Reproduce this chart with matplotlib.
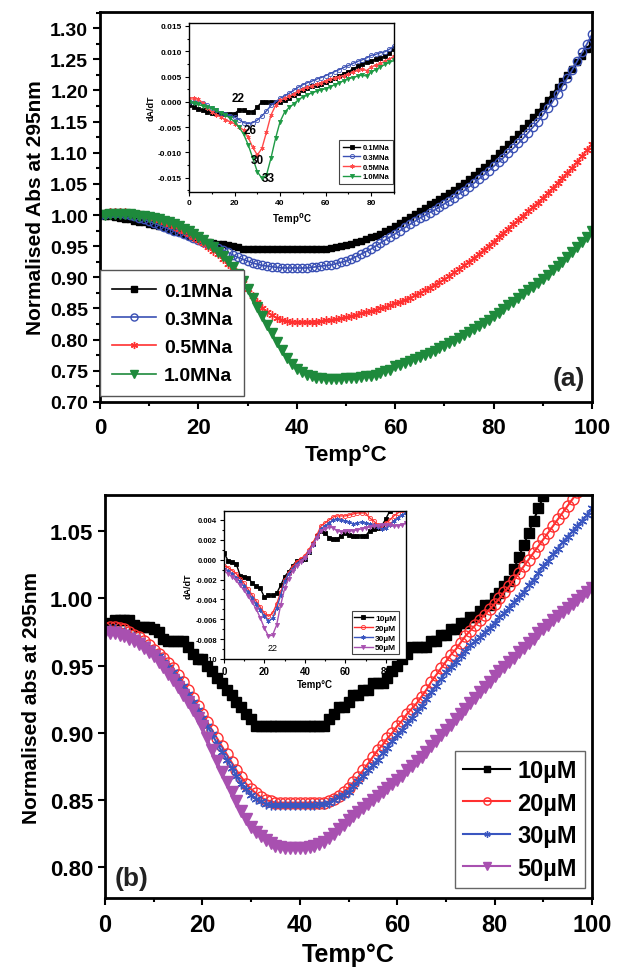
import numpy as np
import matplotlib.pyplot as plt
from matplotlib.ticker import MultipleLocator, FormatStrFormatter

plt.rcParams['font.family'] = ['Liberation Sans', 'DejaVu Sans']
plt.rcParams['font.weight'] = 'bold'
plt.rcParams['axes.labelweight'] = 'bold'

# ---------------- panel (a): normalised absorbance, NaCl series ----------------
temp_a = np.arange(0, 101)
na_labels = ['0.1MNa', '0.3MNa', '0.5MNa', '1.0MNa']
abs_01 = [1.000, 0.999, 0.998, 0.997, 0.996, 0.994, 0.993, 0.991, 0.989, 0.988, 0.986,
          0.984, 0.982, 0.980, 0.978, 0.975, 0.973, 0.970, 0.967, 0.964, 0.961,
          0.959, 0.957, 0.955, 0.954, 0.953, 0.952, 0.950, 0.948, 0.946, 0.945,
          0.945, 0.945, 0.945, 0.945, 0.945, 0.945, 0.945, 0.945, 0.945, 0.945,
          0.945, 0.945, 0.945, 0.945, 0.945, 0.946, 0.947, 0.948, 0.950, 0.952,
          0.954, 0.956, 0.958, 0.961, 0.964, 0.967, 0.970, 0.974, 0.978, 0.982,
          0.987, 0.992, 0.997, 1.002, 1.007, 1.012, 1.017, 1.021, 1.025, 1.030,
          1.035, 1.040, 1.046, 1.052, 1.058, 1.064, 1.070, 1.077, 1.084, 1.091,
          1.099, 1.106, 1.114, 1.122, 1.130, 1.139, 1.148, 1.157, 1.166, 1.175,
          1.185, 1.195, 1.205, 1.215, 1.225, 1.235, 1.245, 1.256, 1.267, 1.278]
abs_03 = [1.000, 1.002, 1.003, 1.003, 1.003, 1.002, 1.000, 0.998, 0.996, 0.993, 0.990,
          0.987, 0.984, 0.981, 0.978, 0.975, 0.972, 0.969, 0.966, 0.963, 0.960,
          0.957, 0.954, 0.950, 0.947, 0.944, 0.940, 0.936, 0.932, 0.929, 0.926,
          0.923, 0.921, 0.919, 0.918, 0.917, 0.916, 0.915, 0.915, 0.915, 0.915,
          0.915, 0.915, 0.916, 0.917, 0.918, 0.919, 0.920, 0.922, 0.924, 0.926,
          0.929, 0.933, 0.937, 0.941, 0.945, 0.950, 0.955, 0.960, 0.965, 0.970,
          0.975, 0.980, 0.985, 0.990, 0.995, 0.999, 1.004, 1.008, 1.013, 1.018,
          1.023, 1.028, 1.034, 1.039, 1.045, 1.051, 1.058, 1.064, 1.071, 1.078,
          1.085, 1.092, 1.100, 1.107, 1.115, 1.123, 1.132, 1.141, 1.150, 1.160,
          1.171, 1.182, 1.194, 1.207, 1.220, 1.233, 1.247, 1.261, 1.275, 1.290]
abs_05 = [1.002, 1.004, 1.005, 1.005, 1.005, 1.005, 1.004, 1.003, 1.002, 1.000, 0.998,
          0.995, 0.992, 0.989, 0.986, 0.982, 0.978, 0.974, 0.970, 0.965, 0.960,
          0.955, 0.949, 0.943, 0.937, 0.930, 0.921, 0.912, 0.902, 0.891, 0.881,
          0.870, 0.860, 0.851, 0.844, 0.839, 0.835, 0.832, 0.830, 0.829, 0.828,
          0.828, 0.828, 0.828, 0.829, 0.830, 0.831, 0.832, 0.833, 0.834, 0.836,
          0.838, 0.840, 0.842, 0.844, 0.846, 0.848, 0.850, 0.852, 0.855, 0.858,
          0.861, 0.864, 0.867, 0.871, 0.875, 0.879, 0.883, 0.888, 0.892, 0.897,
          0.902, 0.908, 0.913, 0.919, 0.925, 0.931, 0.937, 0.944, 0.950, 0.957,
          0.964, 0.971, 0.978, 0.985, 0.992, 0.999, 1.006, 1.013, 1.020, 1.027,
          1.035, 1.043, 1.051, 1.059, 1.067, 1.076, 1.085, 1.095, 1.104, 1.114]
abs_10 = [1.000, 1.000, 1.001, 1.001, 1.001, 1.001, 1.001, 1.000, 0.999, 0.998, 0.997,
          0.995, 0.993, 0.991, 0.988, 0.985, 0.982, 0.978, 0.974, 0.970, 0.965,
          0.960, 0.954, 0.948, 0.941, 0.934, 0.926, 0.917, 0.906, 0.894, 0.881,
          0.867, 0.853, 0.838, 0.824, 0.810, 0.796, 0.783, 0.771, 0.761, 0.753,
          0.748, 0.744, 0.741, 0.739, 0.738, 0.737, 0.737, 0.737, 0.737, 0.738,
          0.738, 0.739, 0.740, 0.741, 0.742, 0.744, 0.746, 0.749, 0.752, 0.757,
          0.760, 0.763, 0.766, 0.769, 0.772, 0.775, 0.779, 0.782, 0.786, 0.790,
          0.794, 0.798, 0.803, 0.807, 0.812, 0.817, 0.822, 0.827, 0.832, 0.838,
          0.843, 0.849, 0.855, 0.861, 0.867, 0.873, 0.879, 0.885, 0.891, 0.897,
          0.904, 0.911, 0.918, 0.925, 0.933, 0.940, 0.948, 0.956, 0.965, 0.974]

# inset (a): dA/dT
temp_da = np.arange(0, 91, 2)
da_01 = [-0.0007, -0.0010, -0.0014, -0.0017, -0.0020, -0.0021, -0.0022, -0.0023, -0.0023, -0.0023,
         -0.0023, -0.0016, -0.0017, -0.0019, -0.0020, -0.0010, 0.0000, 0.0000, 0.0000, 0.0000,
         0.0000, 0.0004, 0.0008, 0.0013, 0.0018, 0.0023, 0.0027, 0.0031, 0.0034, 0.0036,
         0.0039, 0.0043, 0.0047, 0.0051, 0.0056, 0.0060, 0.0065, 0.0070, 0.0074, 0.0078,
         0.0081, 0.0084, 0.0087, 0.0090, 0.0097, 0.0104]
da_03 = [0.0000, 0.0000, 0.0000, -0.0002, -0.0007, -0.0013, -0.0017, -0.0021, -0.0024, -0.0027,
         -0.0030, -0.0035, -0.0041, -0.0043, -0.0041, -0.0036, -0.0028, -0.0018, -0.0007, 0.0000,
         0.0007, 0.0012, 0.0017, 0.0023, 0.0029, 0.0034, 0.0038, 0.0041, 0.0045, 0.0048,
         0.0052, 0.0056, 0.0060, 0.0064, 0.0068, 0.0072, 0.0076, 0.0080, 0.0083, 0.0087,
         0.0092, 0.0094, 0.0097, 0.0099, 0.0104, 0.0110]
da_05 = [0.0007, 0.0008, 0.0006, -0.0002, -0.0012, -0.0020, -0.0025, -0.0030, -0.0035, -0.0039,
         -0.0043, -0.0049, -0.0056, -0.0070, -0.0090, -0.0105, -0.0092, -0.0060, -0.0026, -0.0007,
         0.0003, 0.0007, 0.0011, 0.0016, 0.0021, 0.0026, 0.0029, 0.0032, 0.0035, 0.0038,
         0.0042, 0.0045, 0.0048, 0.0050, 0.0052, 0.0055, 0.0059, 0.0063, 0.0065, 0.0062,
         0.0069, 0.0073, 0.0076, 0.0080, 0.0085, 0.0090]
da_10 = [0.0000, -0.0003, -0.0005, -0.0008, -0.0011, -0.0013, -0.0017, -0.0021, -0.0026, -0.0032,
         -0.0039, -0.0050, -0.0064, -0.0085, -0.0111, -0.0138, -0.0151, -0.0145, -0.0111, -0.0072,
         -0.0039, -0.0020, -0.0011, -0.0004, 0.0004, 0.0010, 0.0014, 0.0018, 0.0021, 0.0024,
         0.0026, 0.0030, 0.0034, 0.0038, 0.0042, 0.0046, 0.0048, 0.0051, 0.0053, 0.0051,
         0.0059, 0.0064, 0.0069, 0.0074, 0.0078, 0.0082]
peak_labels_a = ['22', '26', '30', '33']
peak_x_a = [21.5, 26.6, 30.0, 35.0]
peak_y_a = [0.0007, -0.0056, -0.0115, -0.0151]

# ---------------- panel (b): concentration series ----------------
temp_b = np.arange(0, 101)
conc_labels = ['10\u00b5M', '20\u00b5M', '30\u00b5M', '50\u00b5M']
abs_10um = [0.980, 0.982, 0.984, 0.984, 0.984, 0.984, 0.980, 0.979, 0.979, 0.979, 0.977,
            0.975, 0.970, 0.968, 0.968, 0.968, 0.968, 0.964, 0.959, 0.955, 0.955,
            0.950, 0.946, 0.941, 0.937, 0.932, 0.928, 0.923, 0.919, 0.914, 0.910,
            0.905, 0.905, 0.905, 0.905, 0.905, 0.905, 0.905, 0.905, 0.905, 0.905,
            0.905, 0.905, 0.905, 0.905, 0.905, 0.910, 0.914, 0.919, 0.919, 0.923,
            0.928, 0.928, 0.932, 0.932, 0.937, 0.937, 0.937, 0.941, 0.946, 0.950,
            0.955, 0.959, 0.964, 0.964, 0.964, 0.964, 0.968, 0.968, 0.973, 0.973,
            0.977, 0.977, 0.982, 0.982, 0.986, 0.986, 0.991, 0.995, 0.995, 1.000,
            1.004, 1.009, 1.013, 1.022, 1.031, 1.040, 1.049, 1.058, 1.067, 1.076,
            1.085, 1.094]
abs_20um = [0.978, 0.979, 0.979, 0.978, 0.977, 0.975, 0.973, 0.971, 0.968, 0.965, 0.962,
            0.959, 0.956, 0.952, 0.948, 0.943, 0.938, 0.932, 0.926, 0.920, 0.914,
            0.908, 0.902, 0.896, 0.890, 0.884, 0.878, 0.872, 0.867, 0.862, 0.858,
            0.855, 0.852, 0.850, 0.849, 0.848, 0.848, 0.848, 0.848, 0.848, 0.848,
            0.848, 0.848, 0.848, 0.848, 0.848, 0.849, 0.851, 0.853, 0.856, 0.859,
            0.863, 0.867, 0.872, 0.877, 0.882, 0.887, 0.891, 0.896, 0.900, 0.905,
            0.909, 0.914, 0.918, 0.922, 0.927, 0.932, 0.938, 0.943, 0.948, 0.953,
            0.958, 0.962, 0.967, 0.972, 0.976, 0.980, 0.984, 0.988, 0.992, 0.996,
            1.000, 1.005, 1.009, 1.014, 1.019, 1.024, 1.029, 1.034, 1.039, 1.044,
            1.049, 1.054, 1.059, 1.064, 1.069, 1.074, 1.079, 1.084, 1.089, 1.094]
abs_30um = [0.977, 0.977, 0.977, 0.976, 0.975, 0.973, 0.971, 0.969, 0.966, 0.963, 0.960,
            0.957, 0.953, 0.949, 0.945, 0.940, 0.935, 0.929, 0.923, 0.917, 0.911,
            0.905, 0.899, 0.892, 0.886, 0.880, 0.874, 0.868, 0.862, 0.858, 0.854,
            0.851, 0.849, 0.847, 0.846, 0.846, 0.846, 0.846, 0.846, 0.846, 0.846,
            0.846, 0.846, 0.846, 0.847, 0.847, 0.848, 0.850, 0.852, 0.854, 0.856,
            0.860, 0.864, 0.868, 0.872, 0.876, 0.880, 0.885, 0.889, 0.894, 0.898,
            0.902, 0.907, 0.911, 0.916, 0.920, 0.925, 0.930, 0.935, 0.940, 0.945,
            0.949, 0.953, 0.957, 0.961, 0.965, 0.968, 0.971, 0.975, 0.978, 0.982,
            0.986, 0.989, 0.993, 0.997, 1.001, 1.005, 1.010, 1.014, 1.019, 1.024,
            1.028, 1.033, 1.037, 1.042, 1.046, 1.050, 1.054, 1.058, 1.062, 1.067]
abs_50um = [0.975, 0.974, 0.974, 0.973, 0.972, 0.970, 0.968, 0.966, 0.963, 0.960, 0.957,
            0.953, 0.949, 0.944, 0.939, 0.934, 0.928, 0.923, 0.917, 0.911, 0.905,
            0.896, 0.887, 0.879, 0.871, 0.863, 0.856, 0.849, 0.842, 0.836, 0.830,
            0.826, 0.823, 0.820, 0.818, 0.816, 0.815, 0.814, 0.814, 0.814, 0.814,
            0.814, 0.815, 0.816, 0.817, 0.819, 0.822, 0.825, 0.828, 0.831, 0.835,
            0.838, 0.841, 0.844, 0.847, 0.850, 0.853, 0.856, 0.859, 0.862, 0.865,
            0.868, 0.872, 0.875, 0.879, 0.882, 0.886, 0.890, 0.894, 0.898, 0.902,
            0.906, 0.910, 0.914, 0.918, 0.922, 0.926, 0.930, 0.934, 0.938, 0.942,
            0.946, 0.949, 0.953, 0.956, 0.960, 0.963, 0.967, 0.970, 0.974, 0.977,
            0.980, 0.984, 0.987, 0.990, 0.993, 0.996, 0.999, 1.002, 1.005, 1.008]

# inset (b): dA/dT
temp_db = np.arange(0, 91, 2)
db_10 = [0.0007, -0.0001, -0.0002, -0.0004, -0.0016, -0.0017, -0.0018, -0.0024, -0.0027, -0.0029,
         -0.0038, -0.0036, -0.0036, -0.0034, -0.0026, -0.0017, -0.0012, -0.0006, -0.0001, 0.0000,
         0.0001, 0.0008, 0.0016, 0.0024, 0.0029, 0.0027, 0.0022, 0.0021, 0.0021, 0.0024,
         0.0027, 0.0025, 0.0024, 0.0024, 0.0024, 0.0024, 0.0029, 0.0031, 0.0032, 0.0034,
         0.0041, 0.0049, 0.0056]
db_20 = [-0.0006, -0.0008, -0.0011, -0.0014, -0.0019, -0.0024, -0.0030, -0.0036, -0.0042, -0.0048,
         -0.0054, -0.0057, -0.0054, -0.0045, -0.0033, -0.0021, -0.0013, -0.0007, -0.0002, 0.0001,
         0.0004, 0.0010, 0.0017, 0.0025, 0.0034, 0.0037, 0.0040, 0.0043, 0.0044, 0.0044,
         0.0044, 0.0045, 0.0046, 0.0047, 0.0047, 0.0047, 0.0042, 0.0039, 0.0035, 0.0032,
         0.0037, 0.0040, 0.0044, 0.0047, 0.0050, 0.0050]
db_30 = [-0.0009, -0.0011, -0.0014, -0.0018, -0.0022, -0.0027, -0.0033, -0.0039, -0.0045, -0.0051,
         -0.0057, -0.0062, -0.0059, -0.0049, -0.0036, -0.0022, -0.0014, -0.0009, -0.0004, -0.0001,
         0.0002, 0.0008, 0.0015, 0.0023, 0.0031, 0.0034, 0.0037, 0.0040, 0.0041, 0.0040,
         0.0039, 0.0038, 0.0036, 0.0037, 0.0038, 0.0037, 0.0036, 0.0035, 0.0033, 0.0031,
         0.0032, 0.0035, 0.0039, 0.0042, 0.0045, 0.0047]
db_50 = [-0.0011, -0.0014, -0.0017, -0.0021, -0.0026, -0.0031, -0.0037, -0.0043, -0.0050, -0.0059,
         -0.0069, -0.0077, -0.0076, -0.0066, -0.0046, -0.0029, -0.0019, -0.0011, -0.0006, -0.0002,
         0.0002, 0.0008, 0.0015, 0.0022, 0.0029, 0.0031, 0.0033, 0.0032, 0.0029, 0.0028,
         0.0029, 0.0029, 0.0029, 0.0030, 0.0031, 0.0032, 0.0033, 0.0034, 0.0034, 0.0035,
         0.0035, 0.0035, 0.0034, 0.0034, 0.0035, 0.0037]

colors_a = ['#000000', '#3a50b4', '#ff3030', '#1e8a3c']
colors_b = ['#000000', '#ff3030', '#3a56c0', '#a850b0']
markers = ['s', 'o', (6, 2, 0), 'v']


def style_axes(ax, spine_w):
    for s in ax.spines.values():
        s.set_linewidth(spine_w)


fig = plt.figure(figsize=(6.31, 9.78), dpi=100)

# ---- panel (a) ----
ax1 = fig.add_axes([0.1585, 0.588, 0.7797, 0.3988])
series_a = [abs_01, abs_03, abs_05, abs_10]
msizes_a = [5, 6, 6, 7]
for y, c, m, ms, lab in zip(series_a, colors_a, markers, msizes_a, na_labels):
    fc = 'none' if m == 'o' else c
    ax1.plot(temp_a, y, color=c, lw=1.2, marker=m, ms=ms, mfc=fc, mec=c, mew=1, label=lab)
ax1.set_xlim(0, 100)
ax1.set_ylim(0.70, 1.326)
ax1.xaxis.set_major_locator(MultipleLocator(20))
ax1.xaxis.set_minor_locator(MultipleLocator(10))
ax1.yaxis.set_major_locator(MultipleLocator(0.05))
ax1.yaxis.set_minor_locator(MultipleLocator(0.025))
ax1.yaxis.set_major_formatter(FormatStrFormatter('%.2f'))
ax1.tick_params(which='both', direction='out', width=1.5)
ax1.tick_params(which='major', length=5)
ax1.tick_params(which='minor', length=3)
ax1.tick_params(axis='x', labelsize=16, pad=6)
ax1.tick_params(axis='y', labelsize=14)
ax1.set_xlabel('Temp\u00b0C', fontsize=16, fontweight='bold', labelpad=4)
ax1.set_ylabel('Normalised Abs at 295nm', fontsize=15, fontweight='bold', labelpad=4)
style_axes(ax1, 2)
leg = ax1.legend(loc='lower left', bbox_to_anchor=(0.0, 0.015), borderaxespad=0,
                 fontsize=14, handlelength=2.3, numpoints=1, fancybox=False,
                 edgecolor='#555555', framealpha=1, labelspacing=0.55,
                 handletextpad=0.4, borderpad=0.6, markerscale=0.85)
leg.get_frame().set_linewidth(1)
ax1.text(0.985, 0.03, '(a)', transform=ax1.transAxes, fontsize=19, fontweight='bold',
         ha='right', va='bottom', color='#222222')

# inset (a)
in1 = fig.add_axes([0.2995, 0.8027, 0.3249, 0.1728])
da_series = [da_01, da_03, da_05, da_10]
colors_da = ['#000000', '#3a50b4', '#ff4a4a', '#1e9a45']
for y, c, m, lab in zip(da_series, colors_da, markers, na_labels):
    fc = 'none' if m == 'o' else c
    in1.plot(temp_da, y, color=c, lw=1, marker=m, ms=3, mfc=fc, mec=c, mew=0.6, label=lab)
for t, px, py in zip(peak_labels_a, peak_x_a, peak_y_a):
    in1.text(px, py, t, fontsize=8.5, fontweight='bold', ha='center', va='center')
in1.set_xlim(0, 90)
in1.set_ylim(-0.0178, 0.0156)
in1.xaxis.set_major_locator(MultipleLocator(20))
in1.xaxis.set_minor_locator(MultipleLocator(10))
in1.yaxis.set_major_locator(MultipleLocator(0.005))
in1.yaxis.set_minor_locator(MultipleLocator(0.0025))
in1.yaxis.set_major_formatter(FormatStrFormatter('%.3f'))
in1.tick_params(which='both', direction='out', labelsize=6, width=0.8, pad=2)
in1.tick_params(which='major', length=3)
in1.tick_params(which='minor', length=1.5)
in1.set_xlabel(r'Temp$^\mathbf{0}$C', fontsize=7, fontweight='bold', labelpad=3)
in1.set_ylabel('dA/dT', fontsize=6.5, fontweight='bold', labelpad=2)
style_axes(in1, 1)
leg1 = in1.legend(loc='lower right', bbox_to_anchor=(0.995, 0.047), borderaxespad=0,
                  fontsize=5.5, handlelength=2.2, numpoints=1, fancybox=False,
                  edgecolor='#444444', framealpha=1, labelspacing=0.3,
                  handletextpad=0.3, borderpad=0.5)
leg1.get_frame().set_linewidth(0.8)

# ---- panel (b) ----
ax2 = fig.add_axes([0.1664, 0.0808, 0.7718, 0.412])
series_b = [abs_10um, abs_20um, abs_30um, abs_50um]
temps_b = [temp_b[:len(s)] for s in series_b]
msizes_b = [7, 8, 7, 8]
for x, y, c, m, ms, lab in zip(temps_b, series_b, colors_b, markers, msizes_b, conc_labels):
    fc = 'none' if m == 'o' else c
    ax2.plot(x, y, color=c, lw=1.5, marker=m, ms=ms, mfc=fc, mec=c, mew=1, label=lab)
ax2.set_xlim(0, 100)
ax2.set_ylim(0.777, 1.077)
ax2.xaxis.set_major_locator(MultipleLocator(20))
ax2.xaxis.set_minor_locator(MultipleLocator(10))
ax2.yaxis.set_major_locator(MultipleLocator(0.05))
ax2.yaxis.set_major_formatter(FormatStrFormatter('%.2f'))
ax2.tick_params(which='both', direction='out', width=1.5)
ax2.tick_params(which='major', length=5)
ax2.tick_params(which='minor', length=3)
ax2.tick_params(axis='x', labelsize=17, pad=6)
ax2.tick_params(axis='y', labelsize=16)
ax2.set_xlabel('Temp\u00b0C', fontsize=18, fontweight='bold', labelpad=4)
ax2.set_ylabel('Normalised abs at 295nm', fontsize=15, fontweight='bold', labelpad=6)
style_axes(ax2, 2)
leg2 = ax2.legend(loc='lower right', bbox_to_anchor=(0.986, 0.025), borderaxespad=0,
                  fontsize=17, handlelength=2.0, numpoints=1, fancybox=False,
                  edgecolor='#666666', framealpha=1, labelspacing=0.4,
                  handletextpad=0.3, borderpad=0.35, markerscale=0.65)
leg2.get_frame().set_linewidth(1)
ax2.text(0.02, 0.02, '(b)', transform=ax2.transAxes, fontsize=19, fontweight='bold',
         ha='left', va='bottom', color='#222222')

# inset (b)
in2 = fig.add_axes([0.355, 0.3252, 0.2884, 0.1513])
db_series = [db_10, db_20, db_30, db_50]
temps_db = [temp_db[:len(s)] for s in db_series]
for x, y, c, m, lab in zip(temps_db, db_series, colors_b, markers, conc_labels):
    fc = 'none' if m == 'o' else c
    in2.plot(x, y, color=c, lw=1, marker=m, ms=3, mfc=fc, mec=c, mew=0.6, label=lab)
in2.text(24, -0.0088, '22', fontsize=6.5, fontweight='normal', ha='center', va='center')
in2.set_xlim(0, 90)
in2.set_ylim(-0.010, 0.0049)
in2.xaxis.set_major_locator(MultipleLocator(20))
in2.xaxis.set_minor_locator(MultipleLocator(10))
in2.yaxis.set_major_locator(MultipleLocator(0.002))
in2.yaxis.set_minor_locator(MultipleLocator(0.001))
in2.yaxis.set_major_formatter(FormatStrFormatter('%.3f'))
in2.tick_params(which='both', direction='out', width=0.8, pad=2)
in2.tick_params(axis='y', labelsize=5.5)
in2.tick_params(axis='x', labelsize=7)
in2.tick_params(which='major', length=3)
in2.tick_params(which='minor', length=1.5)
in2.set_xlabel('Temp\u00b0C', fontsize=7, fontweight='bold', labelpad=2)
in2.set_ylabel('dA/dT', fontsize=6.5, fontweight='bold', labelpad=2)
style_axes(in2, 1)
leg3 = in2.legend(loc='lower right', bbox_to_anchor=(0.96, 0.034), borderaxespad=0,
                  fontsize=6, handlelength=2.2, numpoints=1, fancybox=False,
                  edgecolor='#444444', framealpha=1, labelspacing=0.25,
                  handletextpad=0.3, borderpad=0.3)
leg3.get_frame().set_linewidth(0.8)

fig.savefig('out.png', dpi=100)
